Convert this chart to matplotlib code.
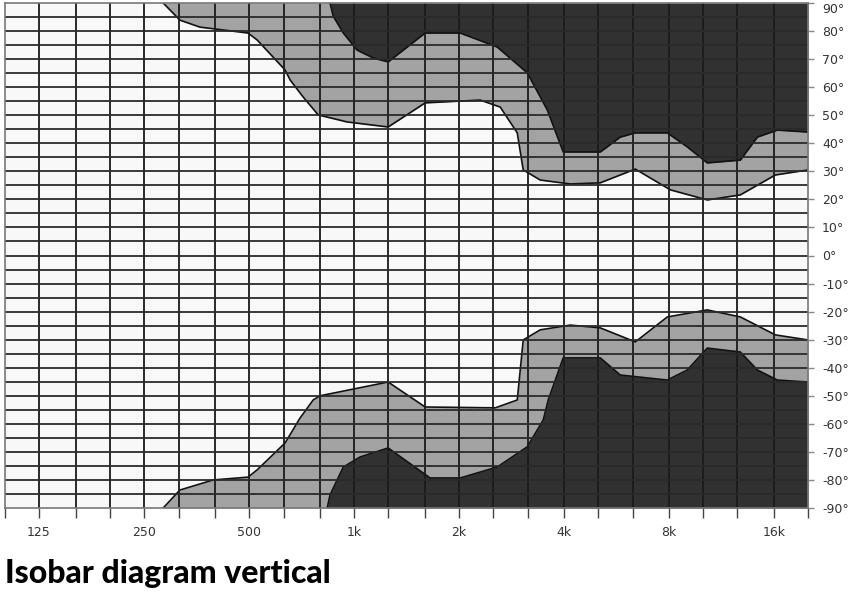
import matplotlib

matplotlib.use('Agg')
import matplotlib.pyplot as plt
from matplotlib.ticker import NullFormatter, NullLocator

# third-octave grid (Hz) and labelled octaves
third_octave = [100, 125, 160, 200, 250, 315, 400, 500, 630, 800, 1000, 1250, 1600,
                2000, 2500, 3150, 4000, 5000, 6300, 8000, 10000, 12500, 16000, 20000]
octave_labels = {125: '125', 250: '250', 500: '500', 1000: '1k', 2000: '2k',
                 4000: '4k', 8000: '8k', 16000: '16k'}
angle_ticks = list(range(-90, 91, 10))

# upper half: border white/grey and grey/dark
up_outer_f = [284, 317, 362, 497, 528, 635, 656, 715, 790, 956, 1253, 1600, 2300, 2625,
              2937, 3055, 3418, 4167, 5080, 6400, 8064, 10290, 12800, 16127, 20000]
up_outer_a = [90, 83.9, 81.4, 79.3, 76.8, 66.1, 62.6, 56.5, 50.1, 47.6, 45.8, 54.4, 55.4,
              52.9, 43.7, 30.5, 26.9, 25.5, 25.9, 30.8, 23.4, 19.8, 21.6, 28.7, 30.5]
up_inner_f = [854, 872, 932, 1021, 1135, 1253, 1600, 2016, 2573, 3137, 3580, 3977, 5080,
              5796, 6400, 7906, 9020, 10290, 12800, 14320, 16340, 20000]
up_inner_a = [90, 85.3, 79.3, 73.2, 70.4, 69, 79.3, 79.3, 74.3, 65.1, 51.9, 36.9, 36.9,
              42.2, 43.7, 43.7, 38.7, 33, 34, 42.2, 44.7, 44]

# lower half
lo_outer_f = [284, 317, 395, 497, 528, 635, 700, 764, 800, 1253, 1600, 2540, 2937, 3055,
              3418, 4167, 5080, 6400, 7906, 10290, 12800, 16127, 20000]
lo_outer_a = [-90, -83.6, -80, -79, -76.4, -66.8, -58, -51.5, -50, -45.1, -54, -54.3,
              -51.5, -30.1, -26.5, -24.8, -25.8, -30.8, -21.9, -19.4, -21.9, -28.3, -30.1]
lo_inner_f = [838, 854, 932, 1042, 1253, 1653, 2016, 2573, 3137, 3487, 3603, 3977,
              5080, 5796, 7906, 9020, 10290, 12800, 14320, 16340, 20000]
lo_inner_a = [-90, -85.3, -75.4, -71.8, -68.6, -79.3, -79.3, -75.4, -68.2, -58.6, -51.5,
              -36.5, -36.5, -42.6, -44.4, -40.8, -33, -34.4, -40.8, -44.4, -45.1]

light = '#a3a3a3'
dark = '#313131'

fig = plt.figure(figsize=(8.57, 5.93), dpi=100)
ax = fig.add_axes([5 / 857, 1 - 508 / 593, 803 / 857, 505 / 593])
ax.set_facecolor('#f8f8f8')
ax.set_xscale('log')
ax.set_xlim(100, 20000)
ax.set_ylim(-90, 90)

ax.fill_between(up_outer_f, up_outer_a, 90, color=light, lw=0, zorder=1)
ax.fill_between(lo_outer_f, lo_outer_a, -90, color=light, lw=0, zorder=1)
ax.fill_between(up_inner_f, up_inner_a, 90, color=dark, lw=0, zorder=2)
ax.fill_between(lo_inner_f, lo_inner_a, -90, color=dark, lw=0, zorder=2)
for f, a in [(up_outer_f, up_outer_a), (lo_outer_f, lo_outer_a),
             (up_inner_f, up_inner_a), (lo_inner_f, lo_inner_a)]:
    ax.plot(f, a, color='#111111', lw=1.2, zorder=3)

# grid
for f in third_octave[1:-1]:
    ax.axvline(f, color='#1a1a1a', lw=1.3, zorder=4)
for a in range(-85, 90, 5):
    ax.axhline(a, color='#2a2a2a', lw=1.3, zorder=4)

ax.xaxis.set_minor_locator(NullLocator())
ax.xaxis.set_minor_formatter(NullFormatter())
ax.set_xticks(third_octave)
ax.set_xticklabels([octave_labels.get(f, '') for f in third_octave])
ax.tick_params(axis='x', length=7, width=1, color='#444444', labelsize=9,
               labelcolor='#333333', pad=6)

ax.yaxis.tick_right()
ax.set_yticks(angle_ticks)
ax.set_yticklabels([f'{a}°' for a in angle_ticks])
ax.tick_params(axis='y', length=4, width=1, color='#888888', labelsize=9,
               labelcolor='#333333', pad=6)
ax.get_yticklabels()[-1].set_va('top')

for s in ax.spines.values():
    s.set_color('#777777')
    s.set_linewidth(1.2)
    s.set_zorder(5)

fig.text(5 / 857, 1 - 583 / 593, 'Isobar diagram vertical', fontsize=23,
         family='Lato', fontweight='black', color='black', ha='left', va='baseline')

fig.savefig('out.png', dpi=100)
